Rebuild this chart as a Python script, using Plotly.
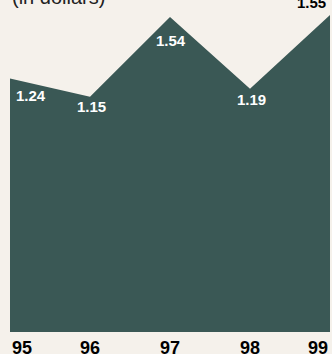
import plotly.graph_objects as go

years = [95, 96, 97, 98, 99]
year_labels = ["95", "96", "97", "98", "99"]
values = [1.24, 1.15, 1.54, 1.19, 1.55]
value_labels = ["1.24", "1.15", "1.54", "1.19", "1.55"]

BG = "#f5f1eb"
FILL = "#3a5855"
FONT = "Liberation Sans, Arial, sans-serif"

fig = go.Figure()
fig.add_trace(go.Scatter(
    x=years, y=values, mode="lines", fill="tozeroy",
    fillcolor=FILL, line=dict(width=0, color=FILL), hoverinfo="skip",
))

# value label placement (style only)
label_style = [
    dict(xanchor="left", xshift=4, yshift=-17, color="white"),
    dict(xanchor="center", xshift=1, yshift=-10, color="white"),
    dict(xanchor="center", xshift=1, yshift=-23, color="white"),
    dict(xanchor="center", xshift=1, yshift=-11, color="white"),
    dict(xanchor="right", xshift=-2, yshift=13, color="black"),
]
for x, y, t, s in zip(years, values, value_labels, label_style):
    fig.add_annotation(x=x, y=y, xref="x", yref="y", text="<b>" + t + "</b>",
                       showarrow=False, xanchor=s["xanchor"], yanchor="middle",
                       xshift=s["xshift"], yshift=s["yshift"],
                       font=dict(family=FONT, size=15, color=s["color"]))

anchors = ["left", "center", "center", "center", "right"]
for x, t, a in zip(years, year_labels, anchors):
    fig.add_annotation(x=x, y=0, xref="x", yref="paper", text="<b>" + t + "</b>",
                       showarrow=False, xanchor=a, yanchor="top", yshift=-4,
                       font=dict(family=FONT, size=18, color="black"))

fig.add_annotation(x=0, y=1, xref="paper", yref="paper", text="(in dollars)",
                   showarrow=False, xanchor="left", yanchor="bottom", yshift=5,
                   font=dict(family=FONT, size=20, color="#222"))

fig.update_layout(
    width=332, height=354,
    margin=dict(l=10, r=2, t=15, b=22),
    paper_bgcolor=BG, plot_bgcolor=BG,
    showlegend=False,
    xaxis=dict(range=[95, 99], visible=False, fixedrange=True),
    yaxis=dict(range=[0, 1.55], visible=False, fixedrange=True),
)

fig.write_html(
    "out.html",
    config={"displayModeBar": False},
    post_script="document.body.style.margin='0';document.body.style.padding='0';"
                "document.body.style.overflow='hidden';",
)
